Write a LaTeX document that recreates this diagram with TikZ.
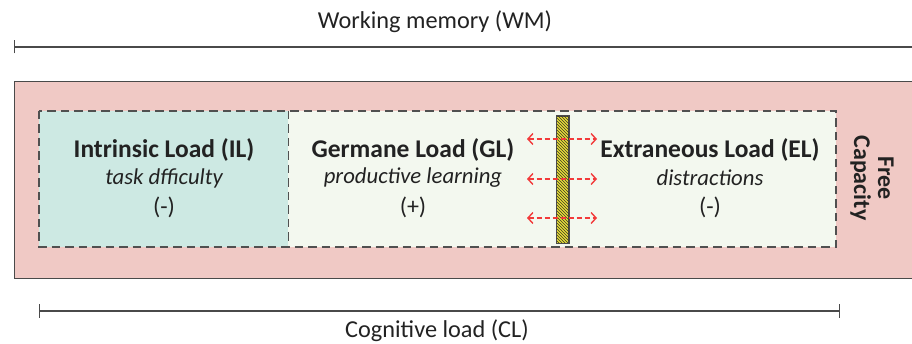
\documentclass[tikz,border=0pt]{standalone}
\usepackage{fontspec}
\setmainfont{Carlito}
\usetikzlibrary{arrows.meta,patterns,positioning}
\definecolor{wmpink}{HTML}{F0C9C5}
\definecolor{ilteal}{HTML}{CDE9E3}
\definecolor{gelight}{HTML}{F3F8EF}
\definecolor{edgegray}{HTML}{4A4A4A}
\definecolor{dashgray}{HTML}{505050}
\definecolor{flowred}{HTML}{F23A3A}
\definecolor{baryellow}{HTML}{E6DC3C}
\definecolor{hatchdark}{HTML}{3C3A1E}
\definecolor{inkgray}{HTML}{222222}
\tikzset{
  title/.style={font=\fontsize{24.3}{26}\selectfont, text=inkgray},
  loadname/.style={font=\bfseries\fontsize{25.5}{27}\selectfont, text=inkgray},
  loaddesc/.style={font=\itshape\fontsize{22.7}{25}\selectfont, text=inkgray},
  loadsign/.style={font=\fontsize{24}{26}\selectfont, text=inkgray},
  dimline/.style={draw=edgegray, line width=1.4pt},
  flow/.style={draw=flowred, line width=1.4pt, dash pattern=on 5pt off 3pt,
    {Straight Barb[length=5pt,width=11pt,line width=1.4pt]}-{Straight Barb[length=5pt,width=11pt,line width=1.4pt]}},
}
\begin{document}
\begin{tikzpicture}[x=1pt,y=-1pt]
\useasboundingbox (0,0) rectangle (912,344);

% working memory block
\node[draw=edgegray, line width=1.4pt, fill=wmpink, minimum width=905pt, minimum height=197pt,
  anchor=north west, inner sep=0pt] (wm) at (14,81) {};

% intrinsic and remaining load areas
\node[fill=ilteal, minimum width=249pt, minimum height=136pt, anchor=north west, inner sep=0pt]
  (il) at (39,111) {};
\node[fill=gelight, minimum width=548pt, minimum height=136pt, anchor=north west, inner sep=0pt]
  (rest) at (288,111) {};
\draw[dashgray, line width=1.4pt, dash pattern=on 8.5pt off 5pt] (39,111) rectangle (836,247);
\draw[dashgray, line width=1.4pt, dash pattern=on 8.5pt off 5pt] (il.north east) -- (il.south east);

% boundary bar between germane and extraneous load
\node[draw=edgegray, line width=1pt, fill=baryellow, minimum width=12pt, minimum height=127pt,
  anchor=north west, inner sep=0pt] (bar) at (556,116) {};
\fill[pattern=north west lines, pattern color=hatchdark]
  (bar.north west) rectangle (bar.south east);
\draw[edgegray, line width=1pt] (bar.north west) rectangle (bar.south east);

% exchange arrows across the bar
\coordinate (a1l) at (527,139); \coordinate (a1r) at (597,139);
\coordinate (a2l) at (527,179); \coordinate (a2r) at (597,179);
\coordinate (a3l) at (527,218); \coordinate (a3r) at (597,218);
\draw[flow] (a1l) -- (a1r);
\draw[flow] (a2l) -- (a2r);
\draw[flow] (a3l) -- (a3r);

% labels of the loads
\node[loadname] (iln) at (164,150) {Intrinsic Load (IL)};
\node[loaddesc] (ild) at (164,178) {task dfficulty};
\node[loadsign] (ils) at (164,207) {(-)};

\node[loadname] (gln) at (413,150) {Germane Load (GL)};
\node[loaddesc] (gld) at (413,178) {productive learning};
\node[loadsign] (gls) at (413,207) {(+)};

\node[loadname] (eln) at (710,150) {Extraneous Load (EL)};
\node[loaddesc] (eld) at (710,178) {distractions};
\node[loadsign] (els) at (710,207) {(-)};

\node[font=\bfseries\fontsize{24}{24}\selectfont, text=inkgray, rotate=-90, align=center]
  (free) at (872,178) {Free\\Capacity};

% dimension lines
\coordinate (wml) at (14,47); \coordinate (wmr) at (915,47);
\draw[dimline, {Bar[width=13pt,line width=1.4pt]}-] (wml) -- (wmr);
\node[title] (wmt) at (435,22) {Working memory (WM)};

\coordinate (cll) at (39,311); \coordinate (clr) at (840,311);
\draw[dimline, {Bar[width=13pt,line width=1.4pt]}-{Bar[width=13pt,line width=1.4pt]}] (cll) -- (clr);
\node[title] (clt) at (437,331) {Cognitive load (CL)};
\end{tikzpicture}
\end{document}
